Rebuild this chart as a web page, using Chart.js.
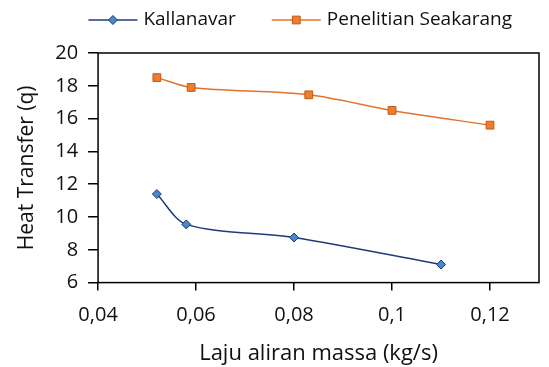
<!DOCTYPE html>
<html lang="en">
<head>
    <meta charset="UTF-8">
    <title>Heat Transfer</title>
    <script src="https://cdn.jsdelivr.net/npm/chart.js"></script>
    <style>
        body {
            margin: 0;
            background-color: white;
        }
        #wrap {
            width: 549px;
            height: 367px;
        }
    </style>
</head>
<body>
<div id="wrap"><canvas id="heat-chart"></canvas></div>
<script>
    // data
    const seriesNames = ['Kallanavar', 'Penelitian Seakarang'];
    const kallanavarX = [0.052, 0.058, 0.080, 0.110];
    const kallanavarQ = [11.4, 9.55, 8.75, 7.1];
    const penelitianX = [0.052, 0.059, 0.083, 0.100, 0.120];
    const penelitianQ = [18.5, 17.9, 17.45, 16.5, 15.6];
    const xTicks = [0.04, 0.06, 0.08, 0.1, 0.12];

    const font = '"Open Sans", sans-serif';
    const styles = [
        { line: '#1f3b78', fill: '#4a86c8', border: '#1f3b78', shape: 'rectRot', radius: 4.5 },
        { line: '#e2732a', fill: '#ed7d31', border: '#c55a11', shape: 'rect', radius: 5.5 }
    ];

    function toPoints(xs, ys) {
        return xs.map((x, i) => ({ x: x, y: ys[i] }));
    }

    // box around the plot area
    const frame = {
        id: 'frame',
        afterDatasetsDraw(chart) {
            const a = chart.chartArea;
            const ctx = chart.ctx;
            ctx.save();
            ctx.strokeStyle = '#000';
            ctx.lineWidth = 1.5;
            ctx.strokeRect(a.left, a.top, a.right - a.left, a.bottom - a.top);
            ctx.restore();
        }
    };

    // Excel style legend: line with marker, then the name
    const topLegend = {
        id: 'topLegend',
        afterDraw(chart) {
            const ctx = chart.ctx;
            const lineLen = 49, gap = 6, spacing = 36, y = 20, rightEnd = 512;
            ctx.save();
            ctx.font = '19px ' + font;
            ctx.textBaseline = 'middle';
            const names = chart.data.datasets.map(ds => ds.label);
            const widths = names.map(n => ctx.measureText(n).width);
            let total = 0;
            widths.forEach((w, i) => { total += lineLen + gap + w + (i ? spacing : 0); });
            let x = rightEnd - total;
            names.forEach((name, i) => {
                const s = styles[i];
                ctx.strokeStyle = s.line;
                ctx.lineWidth = 1.5;
                ctx.beginPath();
                ctx.moveTo(x, y);
                ctx.lineTo(x + lineLen, y);
                ctx.stroke();
                ctx.fillStyle = s.fill;
                ctx.strokeStyle = s.border;
                ctx.lineWidth = 1;
                Chart.helpers.drawPoint(ctx, {
                    pointStyle: s.shape,
                    radius: s.radius,
                    borderWidth: 1
                }, x + lineLen / 2, y);
                ctx.fillStyle = '#111';
                ctx.fillText(name, x + lineLen + gap, y);
                x += lineLen + gap + widths[i] + spacing;
            });
            ctx.restore();
        }
    };

    const datasets = [
        toPoints(kallanavarX, kallanavarQ),
        toPoints(penelitianX, penelitianQ)
    ].map((pts, i) => ({
        label: seriesNames[i],
        data: pts,
        borderColor: styles[i].line,
        borderWidth: 1.5,
        backgroundColor: styles[i].fill,
        pointBackgroundColor: styles[i].fill,
        pointBorderColor: styles[i].border,
        pointBorderWidth: 1,
        pointStyle: styles[i].shape,
        pointRadius: styles[i].radius,
        tension: 0.3,
        fill: false
    }));

    new Chart(document.getElementById('heat-chart'), {
        type: 'line',
        data: { datasets: datasets },
        plugins: [frame, topLegend],
        options: {
            responsive: true,
            maintainAspectRatio: false,
            animation: false,
            layout: { padding: { left: 14, right: 10, top: 53, bottom: 0 } },
            plugins: {
                tooltip: { enabled: false },
                legend: { display: false }
            },
            scales: {
                x: {
                    type: 'linear',
                    min: 0.04,
                    max: 0.13,
                    afterBuildTicks(axis) {
                        axis.ticks = xTicks.map(v => ({ value: v }));
                    },
                    grid: {
                        drawOnChartArea: false,
                        drawTicks: true,
                        tickLength: 8,
                        color: '#000',
                        lineWidth: 1.5
                    },
                    border: { display: false },
                    ticks: {
                        color: '#111',
                        padding: 13,
                        maxRotation: 0,
                        font: { family: font, size: 20 },
                        callback: v => String(Math.round(v * 100) / 100).replace('.', ',')
                    },
                    title: {
                        display: true,
                        text: 'Laju aliran massa (kg/s)',
                        color: '#111',
                        padding: { top: 0, bottom: 0 },
                        font: { family: font, size: 22 }
                    }
                },
                y: {
                    min: 6,
                    max: 20,
                    grid: {
                        drawOnChartArea: false,
                        drawTicks: true,
                        tickLength: 10,
                        color: '#000',
                        lineWidth: 1.5
                    },
                    border: { display: false },
                    ticks: {
                        stepSize: 2,
                        color: '#111',
                        padding: 10,
                        font: { family: font, size: 20 }
                    },
                    title: {
                        display: true,
                        text: 'Heat Transfer (q)',
                        color: '#111',
                        padding: { top: 0, bottom: 6 },
                        font: { family: font, size: 21 }
                    }
                }
            }
        }
    });
</script>
</body>
</html>
